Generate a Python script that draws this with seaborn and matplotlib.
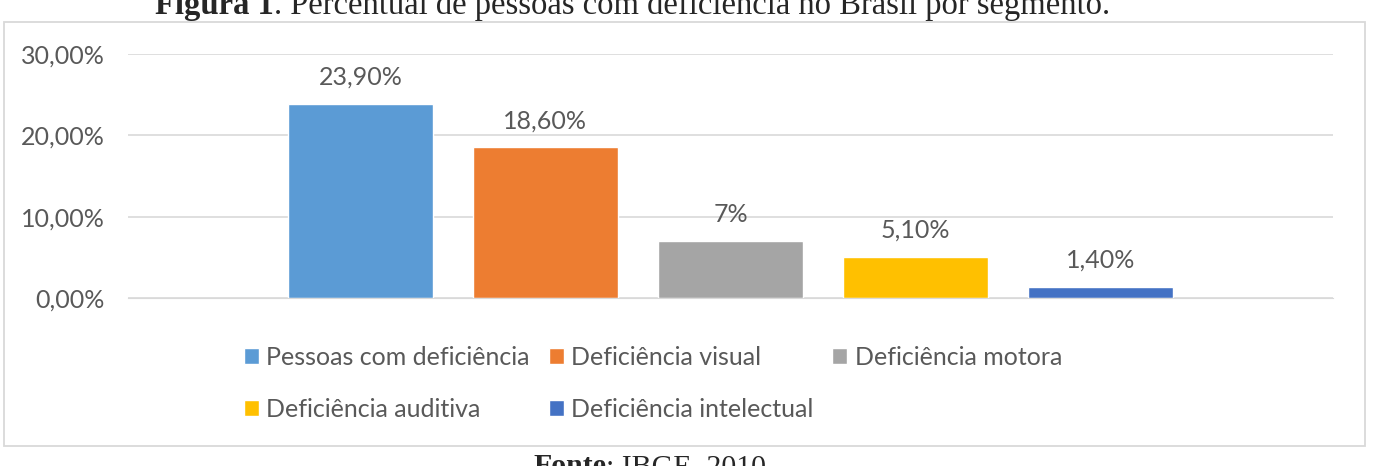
import pandas as pd
import matplotlib.pyplot as plt
import seaborn as sns
from matplotlib.patches import Rectangle

# ── Dados ────────────────────────────────────────────────────────────────
segmentos = ['Pessoas com deficiência', 'Deficiência visual', 'Deficiência motora',
             'Deficiência auditiva', 'Deficiência intelectual']
percentuais = [23.9, 18.6, 7.0, 5.1, 1.4]
rotulos = ['23,90%', '18,60%', '7%', '5,10%', '1,40%']
ticks_y = [0, 10, 20, 30]
ticks_y_txt = ['0,00%', '10,00%', '20,00%', '30,00%']
cores = ['#5B9BD5', '#ED7D31', '#A5A5A5', '#FFC000', '#4472C4']

df = pd.DataFrame({'grupo': ['Brasil'] * len(segmentos),
                   'segmento': segmentos,
                   'valor': percentuais})

sns.set_style('white')
plt.rcParams['font.family'] = ['Lato', 'DejaVu Sans']
cinza = '#595959'
tam = 18

fig = plt.figure(figsize=(13.75, 4.66), dpi=100)
ax = fig.add_axes([128 / 1375, 1 - 298 / 466, 1205 / 1375, 244 / 466])

sns.barplot(data=df, x='grupo', y='valor', hue='segmento', palette=cores,
            width=0.768, gap=0.216, ax=ax, legend=True, saturation=1)

for cont, txt in zip(ax.containers, rotulos):
    ax.bar_label(cont, labels=[txt], padding=10.5, fontsize=tam, color=cinza)

ax.set_xlim(-0.5, 0.5)
ax.set_ylim(0, 30)
ax.set_yticks(ticks_y)
ax.set_yticklabels(ticks_y_txt)
ax.set_xticks([])
ax.set_xlabel('')
ax.set_ylabel('')
ax.yaxis.grid(True, color='#d9d9d9', linewidth=1.2)
ax.set_axisbelow(True)
ax.tick_params(axis='y', length=0, pad=17, labelsize=tam, labelcolor=cinza)
for s in ['top', 'right', 'left']:
    ax.spines[s].set_visible(False)
ax.spines['bottom'].set_color('#d9d9d9')

# legenda em 3 colunas, preenchida por linha
handles, labels = ax.get_legend_handles_labels()
ordem = [0, 3, 1, 4, 2]
ax.legend([handles[i] for i in ordem], [labels[i] for i in ordem],
          ncol=3, loc='upper left', bbox_to_anchor=(244 / 1375, 1 - 346 / 466),
          bbox_transform=fig.transFigure, frameon=False, fontsize=tam,
          labelcolor=cinza, handlelength=0.6, handleheight=0.6,
          handletextpad=0.3, columnspacing=0.75, labelspacing=1.15,
          borderaxespad=0, borderpad=0)

# moldura do gráfico
fig.patches.append(Rectangle((4 / 1375, 1 - 446 / 466), 1361 / 1375, 424 / 466,
                             transform=fig.transFigure, fill=False,
                             edgecolor='#d9d9d9', linewidth=1.3))

# título e fonte (cortados nas bordas como no original)
serif = ['Liberation Serif', 'DejaVu Serif']
fig.text(274 / 1375, 1 - 14 / 466, 'Figura 1', ha='right', va='baseline',
         fontsize=23.5, fontweight='bold', family=serif)
fig.text(274 / 1375, 1 - 14 / 466, '. Percentual de pessoas com deficiência no Brasil por segmento.',
         ha='left', va='baseline', fontsize=23.5, family=serif)
fig.text(606 / 1375, 1 - 474 / 466, 'Fonte', ha='right', va='baseline',
         fontsize=21.5, fontweight='bold', family=serif)
fig.text(606 / 1375, 1 - 474 / 466, ': IBGE, 2010', ha='left', va='baseline',
         fontsize=21.5, family=serif)

plt.savefig('out.png', dpi=100)
